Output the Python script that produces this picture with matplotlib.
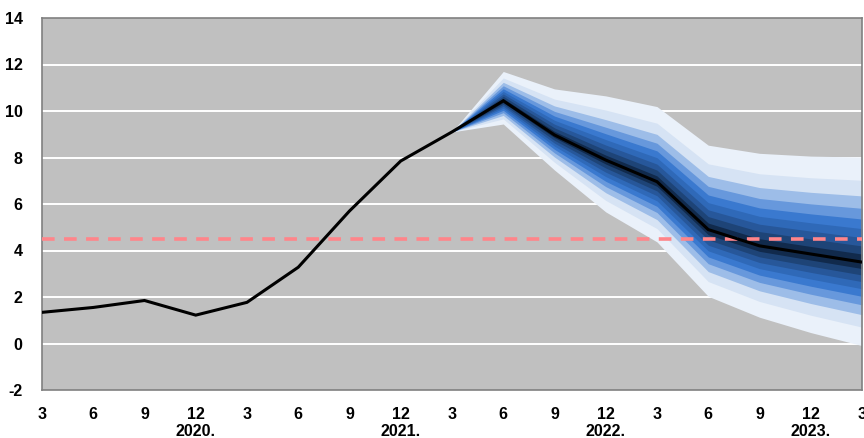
import matplotlib
matplotlib.use("Agg")
import matplotlib.pyplot as plt
import matplotlib.transforms as mtransforms
import numpy as np

# ---- data ----
month_labels = ["3", "6", "9", "12", "3", "6", "9", "12", "3", "6", "9", "12",
                "3", "6", "9", "12", "3"]
year_labels = ["2020.", "2021.", "2022.", "2023."]
year_label_pos = [3, 7, 11, 15]

actual = [1.34, 1.55, 1.85, 1.22, 1.77, 3.28, 5.7, 7.85, 9.1]
actual_x = list(range(0, 9))

central = [9.1, 10.44, 8.97, 7.89, 6.96, 4.9, 4.2, 3.85, 3.5]
upper90 = [9.1, 11.7, 10.95, 10.65, 10.19, 8.53, 8.18, 8.06, 8.02]
lower90 = [9.1, 9.44, 7.46, 5.66, 4.37, 2.03, 1.13, 0.47, -0.09]
proj_x = list(range(8, 17))

# relative half-widths of the 10%,20%,...,90% bands
band_fractions = [0.077, 0.154, 0.234, 0.319, 0.41, 0.512, 0.63, 0.779, 1.0]
band_colors = ["#112a4c", "#1e4477", "#27579a", "#2f69b8", "#3a79cf",
               "#6798dc", "#9dbde8", "#d6e3f4", "#eaf1fa"]

target_upper = 4.5

# ---- plot ----
plt.rcParams['font.family'] = ['Liberation Sans Narrow', 'Liberation Sans', 'DejaVu Sans']
plt.rcParams['axes.unicode_minus'] = False
fig = plt.figure(figsize=(8.64, 4.38), dpi=100)
ax = fig.add_axes([42 / 864, 48 / 438, 820 / 864, 372 / 438])
ax.set_facecolor("#c0c0c0")

c = np.array(central)
up = np.array(upper90)
lo = np.array(lower90)
for frac, col in reversed(list(zip(band_fractions, band_colors))):
    ax.fill_between(proj_x, c - frac * (c - lo), c + frac * (up - c),
                    color=col, linewidth=0, zorder=2)

ax.axhline(target_upper, color="#ff858a", linewidth=2.6, dashes=(3.5, 2.6),
           zorder=3)
ax.plot(actual_x + proj_x[1:], actual + central[1:], color="black",
        linewidth=2.2, zorder=4, solid_joinstyle="miter")

ax.set_xlim(0, 16)
ax.set_ylim(-2, 14)
ax.set_yticks(range(-2, 15, 2))
ax.set_xticks(range(17))
ax.set_xticklabels(month_labels)
for y in range(0, 13, 2):
    ax.axhline(y, color="white", linewidth=1.4, zorder=1)

for s in ax.spines.values():
    s.set_color("#808080")
    s.set_linewidth(1.2)
ax.tick_params(axis="both", length=0, labelsize=11.5)
ax.tick_params(axis="x", pad=12)
ax.tick_params(axis="y", pad=14)
for lab in ax.get_xticklabels() + ax.get_yticklabels():
    lab.set_fontweight("bold")

trans = mtransforms.blended_transform_factory(ax.transData, fig.transFigure)
for pos, lab in zip(year_label_pos, year_labels):
    ax.text(pos, 2 / 438, lab, transform=trans, ha="center", va="baseline",
            fontsize=11.5, fontweight="bold")

fig.savefig("out.png", dpi=100)
